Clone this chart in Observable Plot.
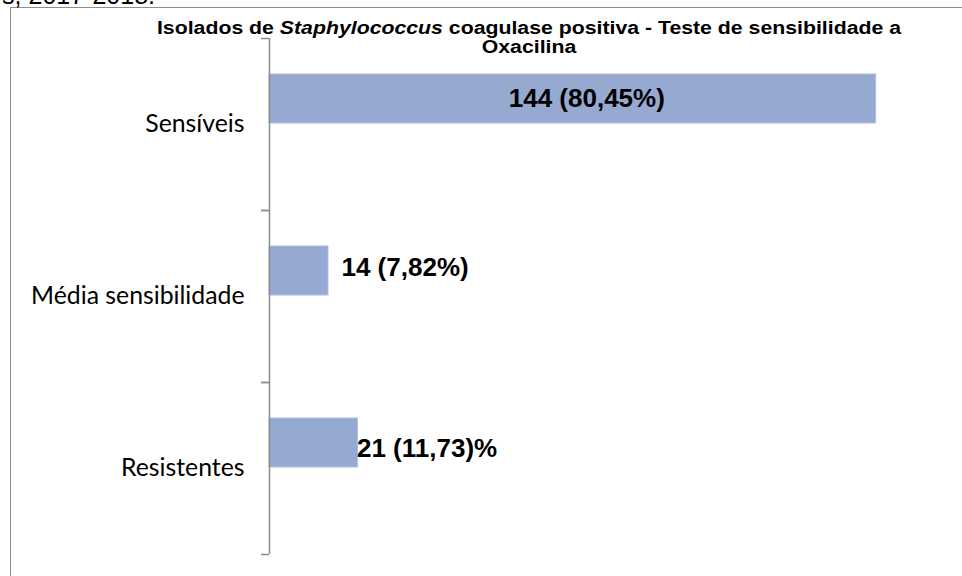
<!DOCTYPE html>
<html>
<head>
<meta charset="utf-8">
<script src="https://cdn.jsdelivr.net/npm/d3@7"></script>
<script src="https://cdn.jsdelivr.net/npm/@observablehq/plot@0.6"></script>
<style>
  html, body { margin: 0; padding: 0; background: #fff; overflow: hidden; }
  #wrap { position: relative; width: 962px; height: 576px; }
  #wrap svg { position: absolute; left: 0; top: 0; }
  #frame { position: absolute; left: 10px; top: 7px; width: 960px; height: 600px;
           border-left: 1.5px solid #8c8c8c; border-top: 1.5px solid #8c8c8c; }
  #cut { position: absolute; right: 807px; top: -17px; font: 25px "Liberation Sans", Arial, sans-serif;
         line-height: 25px; white-space: nowrap; color: #000; }
  #title { position: absolute; left: 129px; top: 19px; width: 800px; text-align: center;
           font: bold 17.5px "Liberation Sans", Arial, sans-serif; line-height: 18.5px;
           transform: scaleX(1.215); transform-origin: 50% 50%; white-space: nowrap; color: #000; }
</style>
</head>
<body>
<div id="wrap"></div>
<script>
const categorias = ["Sensíveis", "Média sensibilidade", "Resistentes"];
const isolados = [144, 14, 21];
const rotulos = ["144 (80,45%)", "14 (7,82%)", "21 (11,73)%"];
const xDominio = [0, 160];

const dados = categorias.map((c, i) => ({categoria: c, n: isolados[i], rotulo: rotulos[i]}));

const labelFont = {fontFamily: "'Liberation Sans', Arial, sans-serif", fontWeight: "bold", fontSize: 26, fill: "#000"};

const chart = Plot.plot({
  width: 962,
  height: 576,
  marginLeft: 269,
  marginRight: 19,
  marginTop: 38,
  marginBottom: 22,
  style: {background: "transparent", overflow: "visible"},
  x: {domain: xDominio, axis: null},
  y: {domain: categorias, padding: 0, axis: null, label: null},
  marks: [
    Plot.barX(dados, {y: "categoria", x: "n", fill: "#95a9d1", stroke: "#aebfdf", strokeWidth: 1, insetTop: 36, insetBottom: 87}),
    Plot.ruleX([0], {stroke: "#8c8c8c", strokeWidth: 1.5}),
    Plot.axisY({tickSize: 8, text: null, label: null, dy: -86, stroke: "#8c8c8c", strokeWidth: 1.5}),
    Plot.axisY({tickSize: 8, text: null, label: null, dy: 86, stroke: "#8c8c8c", strokeWidth: 1.5}),
    Plot.text(dados, {y: "categoria", text: "categoria", frameAnchor: "left", textAnchor: "end", dx: -25,
                      fontFamily: "Lato, 'Noto Sans', sans-serif", fontSize: 24.8, fill: "#000"}),
    Plot.text(dados, {filter: (d, i) => i === 0, y: "categoria", x: d => d.n / 2, text: "rotulo",
                      textAnchor: "middle", dx: 14, dy: -26, ...labelFont}),
    Plot.text(dados, {filter: (d, i) => i === 1, y: "categoria", x: "n", text: "rotulo",
                      textAnchor: "start", dx: 13, dy: -29, ...labelFont}),
    Plot.text(dados, {filter: (d, i) => i === 2, y: "categoria", x: "n", text: "rotulo",
                      textAnchor: "start", dx: -1, dy: -20, ...labelFont})
  ]
});

const wrap = document.getElementById("wrap");
wrap.appendChild(chart);

const frame = document.createElement("div");
frame.id = "frame";
wrap.appendChild(frame);

const cut = document.createElement("div");
cut.id = "cut";
cut.textContent = "s, 2017-2018.";
wrap.appendChild(cut);

const title = document.createElement("div");
title.id = "title";
title.innerHTML = "Isolados de <i>Staphylococcus</i> coagulase positiva - Teste de sensibilidade a<br>Oxacilina";
wrap.appendChild(title);
</script>
</body>
</html>
